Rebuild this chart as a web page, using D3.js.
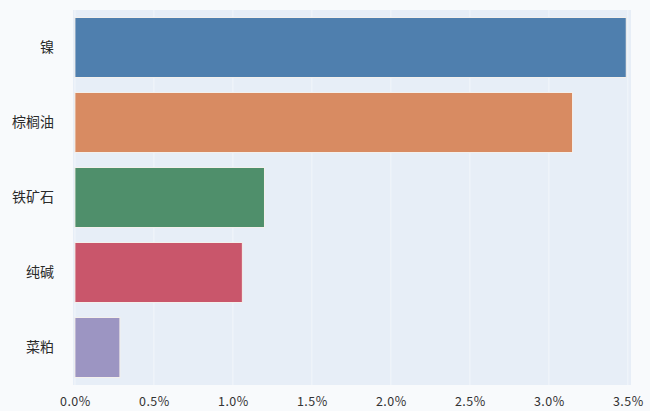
<!DOCTYPE html>
<html><head><meta charset="utf-8">
<script src="https://cdn.jsdelivr.net/npm/d3@7"></script>
<style>
html,body{margin:0;padding:0;background:#f8fafc;}
svg{display:block;font-family:"Noto Sans CJK SC",sans-serif;}
</style></head>
<body><svg id="chart" width="650" height="411"></svg>
<script>
const categories = ["镍","棕榈油","铁矿石","纯碱","菜粕"];
const values = [3.49, 3.15, 1.20, 1.06, 0.285];
const colors = ["#4f7fae","#d88b62","#4f8f6b","#c9566b","#9c95c2"];
const xTicks = [0,0.5,1.0,1.5,2.0,2.5,3.0,3.5];

const svg = d3.select("#chart");
const m = {left:73, right:19, top:10, bottom:26};
const W = 650, H = 411;
const x = d3.scaleLinear().domain([-0.012, 3.52]).range([m.left, W - m.right]);
const y = d3.scaleBand().domain(categories).range([m.top, H - m.bottom]).paddingInner(0.2).paddingOuter(0.1);

svg.append("rect").attr("x", m.left).attr("y", m.top)
  .attr("width", W - m.left - m.right).attr("height", H - m.top - m.bottom)
  .attr("fill", "#e7eef7");

svg.append("g").selectAll("line").data(xTicks).join("line")
  .attr("x1", d => x(d)).attr("x2", d => x(d))
  .attr("y1", m.top).attr("y2", H - m.bottom)
  .attr("stroke", "#f2f6fb").attr("stroke-width", 1);

svg.append("g").selectAll("rect").data(categories).join("rect")
  .attr("x", x(0)).attr("y", c => y(c))
  .attr("width", (c,i) => x(values[i]) - x(0))
  .attr("height", y.bandwidth())
  .attr("fill", (c,i) => colors[i])
  .attr("stroke", "#f4f0ec").attr("stroke-width", 1);

const xa = svg.append("g").attr("transform", `translate(0,${H - m.bottom})`)
  .call(d3.axisBottom(x).tickValues(xTicks).tickSize(0).tickPadding(12)
    .tickFormat(d => d.toFixed(1) + "%"));
xa.select(".domain").remove();
xa.selectAll("text").attr("font-size", 12.5).attr("fill", "#333")
  .attr("letter-spacing", "0.5px")
  .attr("font-family", "Noto Sans CJK SC, sans-serif");

const ya = svg.append("g").attr("transform", `translate(${m.left},0)`)
  .call(d3.axisLeft(y).tickSize(0).tickPadding(19));
ya.select(".domain").remove();
ya.selectAll("text").attr("font-size", 14).attr("fill", "#2a2a2a")
  .attr("font-family", "Noto Sans CJK SC, sans-serif");
</script></body></html>
